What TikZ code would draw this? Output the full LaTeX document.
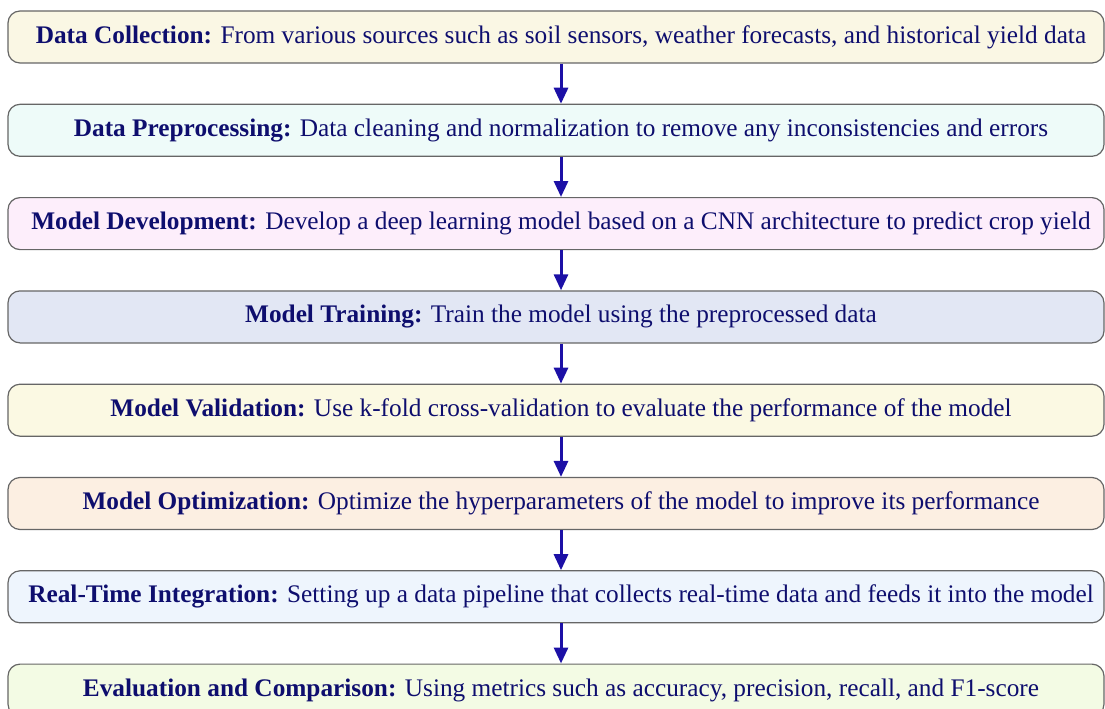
\documentclass[tikz,border=0pt]{standalone}
\usepackage{fontspec}
\setmainfont{Liberation Serif}
\usetikzlibrary{arrows.meta}
\definecolor{navy}{HTML}{0E0E6E}
\definecolor{arrowc}{HTML}{1C10A6}
\definecolor{bordc}{HTML}{666666}
\definecolor{c1}{HTML}{FAF7E4}
\definecolor{c2}{HTML}{EEFBF9}
\definecolor{c3}{HTML}{FDEEFB}
\definecolor{c4}{HTML}{E2E7F4}
\definecolor{c5}{HTML}{FBF9E3}
\definecolor{c6}{HTML}{FCEFE2}
\definecolor{c7}{HTML}{EEF5FD}
\definecolor{c8}{HTML}{F3FBE4}
\tikzset{
  stepbox/.style={draw=bordc, line width=1.2pt, rounded corners=12pt,
    minimum width=1096pt, minimum height=52pt, inner sep=0pt},
  steptext/.style={text=navy, font=\fontsize{25.3}{29}\selectfont, inner sep=0pt},
  flow/.style={draw=arrowc, line width=3pt, -{Triangle[width=14pt,length=16pt]}}
}
\begin{document}
\begin{tikzpicture}[x=1pt,y=1pt]
\useasboundingbox (0,0) rectangle (1105,-709);
\begin{scope}
\clip (0,0) rectangle (1105,-709);
\node[stepbox, fill=c1] (b1) at (556,-37) {};
\node[stepbox, fill=c2] (b2) at (556,-130.3) {};
\node[stepbox, fill=c3] (b3) at (556,-223.6) {};
\node[stepbox, fill=c4] (b4) at (556,-316.9) {};
\node[stepbox, fill=c5] (b5) at (556,-410.2) {};
\node[stepbox, fill=c6] (b6) at (556,-503.5) {};
\node[stepbox, fill=c7] (b7) at (556,-596.8) {};
\node[stepbox, fill=c8] (b8) at (556,-690.1) {};
\end{scope}
\node[steptext] (t1) at (561,-37) {\textbf{Data Collection:} From various sources such as soil sensors, weather forecasts, and historical yield data};
\node[steptext] (t2) at (561,-130.3) {\textbf{Data Preprocessing:} Data cleaning and normalization to remove any inconsistencies and errors};
\node[steptext] (t3) at (561,-223.6) {\textbf{Model Development:} Develop a deep learning model based on a CNN architecture to predict crop yield};
\node[steptext] (t4) at (561,-316.9) {\textbf{Model Training:} Train the model using the preprocessed data};
\node[steptext] (t5) at (561,-410.2) {\textbf{Model Validation:} Use k-fold cross-validation to evaluate the performance of the model};
\node[steptext] (t6) at (561,-503.5) {\textbf{Model Optimization:} Optimize the hyperparameters of the model to improve its performance};
\node[steptext] (t7) at (561,-596.8) {\textbf{Real-Time Integration:} Setting up a data pipeline that collects real-time data and feeds it into the model};
\node[steptext] (t8) at (561,-690.1) {\textbf{Evaluation and Comparison:} Using metrics such as accuracy, precision, recall, and F1-score};
\foreach \a/\b in {b1/b2,b2/b3,b3/b4,b4/b5,b5/b6,b6/b7,b7/b8}{
  \draw[flow] ([xshift=5pt]\a.south) -- ([xshift=5pt]\b.north);
}
\end{tikzpicture}
\end{document}
